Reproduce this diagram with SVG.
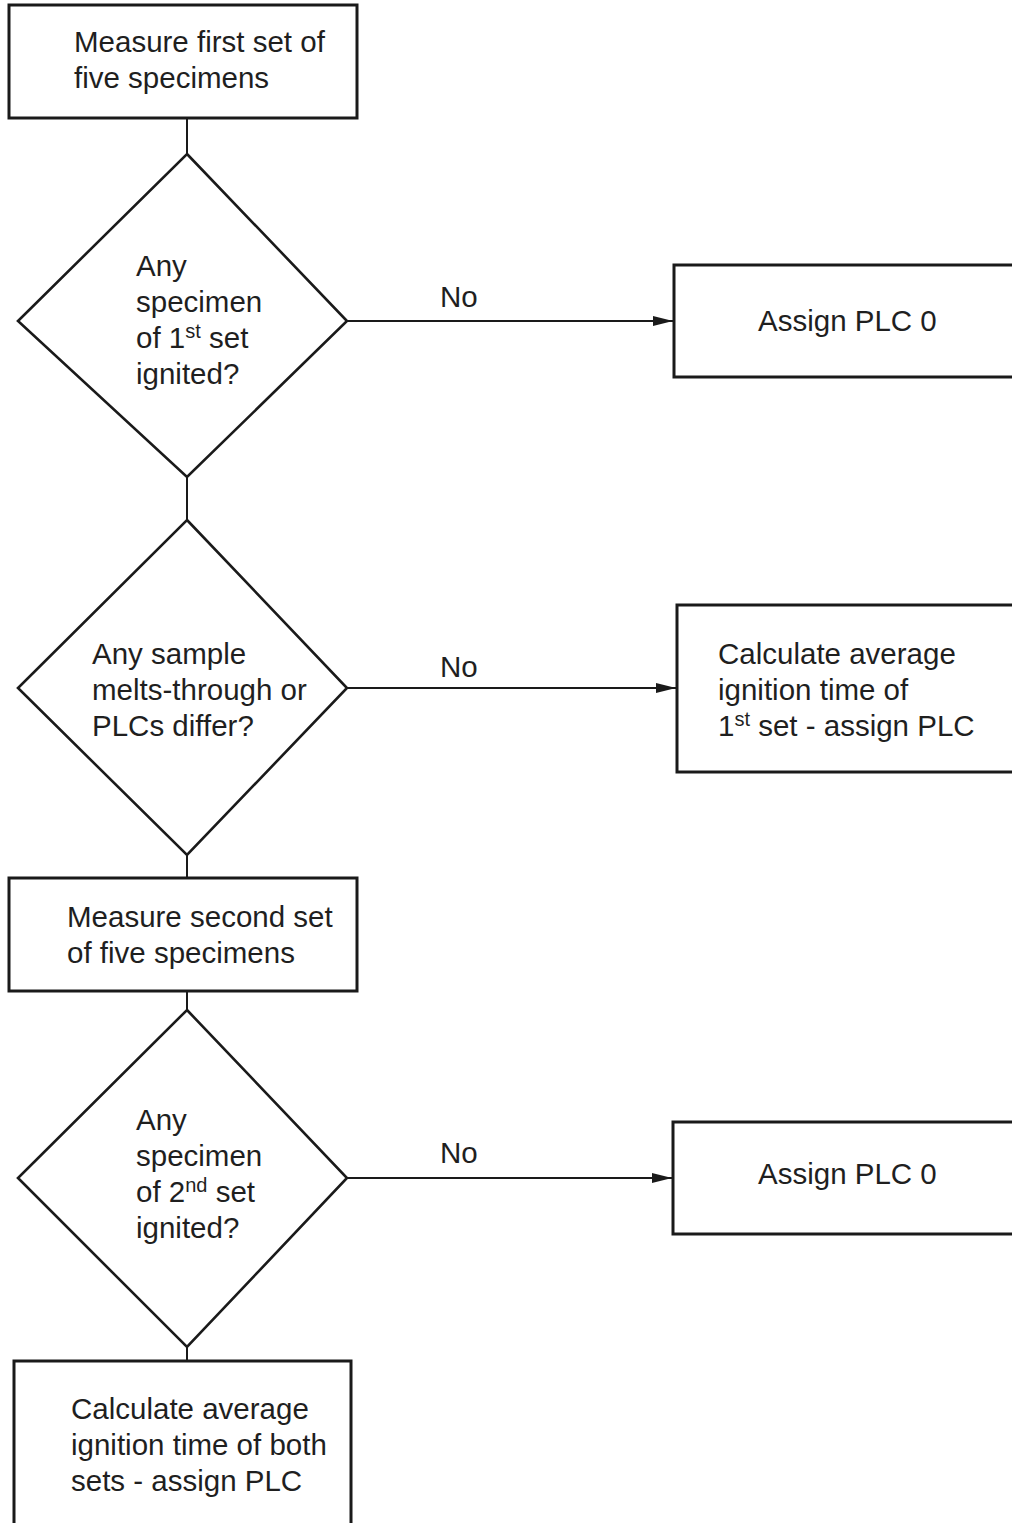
<svg xmlns="http://www.w3.org/2000/svg" width="1012" height="1523" viewBox="0 0 1012 1523">
<style>
.box{fill:#fff;stroke:#1a1a1a;stroke-width:3}
.dia{fill:#fff;stroke:#1a1a1a;stroke-width:2.6}
.con{fill:none;stroke:#1a1a1a;stroke-width:2}
text{font-family:"Liberation Sans",Arial,Helvetica,sans-serif;font-size:29.5px;fill:#1f1f1f}
.sup{font-size:20px}
</style>
<defs>
<marker id="arr" viewBox="0 0 20 10" refX="20" refY="5" markerWidth="20" markerHeight="10" markerUnits="userSpaceOnUse" orient="auto">
<path d="M0,0 L20,5 L0,10 Z" fill="#1a1a1a"/>
</marker>
</defs>
<rect width="1012" height="1523" fill="#fff"/>
<g id="connectors">
<line class="con" x1="187" y1="118" x2="187" y2="154"/>
<line class="con" x1="187" y1="477" x2="187" y2="520"/>
<line class="con" x1="187" y1="855" x2="187" y2="878"/>
<line class="con" x1="187" y1="991" x2="187" y2="1010"/>
<line class="con" x1="187" y1="1347" x2="187" y2="1361"/>
<line class="con" x1="347" y1="321" x2="673" y2="321" marker-end="url(#arr)"/>
<line class="con" x1="347" y1="688" x2="676" y2="688" marker-end="url(#arr)"/>
<line class="con" x1="347" y1="1178" x2="672" y2="1178" marker-end="url(#arr)"/>
<text x="440" y="307">No</text>
<text x="440" y="677">No</text>
<text x="440" y="1163">No</text>
</g>
<g id="measure1">
<rect class="box" x="9" y="5" width="348" height="113"/>
<text x="74" y="52">Measure first set of</text>
<text x="74" y="88">five specimens</text>
</g>
<g id="decision1">
<polygon class="dia" points="187,154 347,321 187,477 18,321"/>
<text x="136" y="276">Any</text>
<text x="136" y="312">specimen</text>
<text x="136" y="348">of 1<tspan class="sup" dy="-10">st</tspan><tspan dy="10"> set</tspan></text>
<text x="136" y="384">ignited?</text>
</g>
<g id="plc0a">
<rect class="box" x="674" y="265" width="400" height="112"/>
<text x="758" y="331">Assign PLC 0</text>
</g>
<g id="decision2">
<polygon class="dia" points="187,520 347,688 187,855 18,688"/>
<text x="92" y="664">Any sample</text>
<text x="92" y="700">melts-through or</text>
<text x="92" y="736">PLCs differ?</text>
</g>
<g id="calc1">
<rect class="box" x="677" y="605" width="400" height="167"/>
<text x="718" y="664">Calculate average</text>
<text x="718" y="700">ignition time of</text>
<text x="718" y="736">1<tspan class="sup" dy="-10">st</tspan><tspan dy="10"> set - assign PLC</tspan></text>
</g>
<g id="measure2">
<rect class="box" x="9" y="878" width="348" height="113"/>
<text x="67" y="927">Measure second set</text>
<text x="67" y="963">of five specimens</text>
</g>
<g id="decision3">
<polygon class="dia" points="187,1010 347,1178 187,1347 18,1178"/>
<text x="136" y="1130">Any</text>
<text x="136" y="1166">specimen</text>
<text x="136" y="1202">of 2<tspan class="sup" dy="-10">nd</tspan><tspan dy="10"> set</tspan></text>
<text x="136" y="1238">ignited?</text>
</g>
<g id="plc0b">
<rect class="box" x="673" y="1122" width="400" height="112"/>
<text x="758" y="1184">Assign PLC 0</text>
</g>
<g id="calc2">
<rect class="box" x="14" y="1361" width="337" height="200"/>
<text x="71" y="1419">Calculate average</text>
<text x="71" y="1455">ignition time of both</text>
<text x="71" y="1491">sets - assign PLC</text>
</g>
</svg>
